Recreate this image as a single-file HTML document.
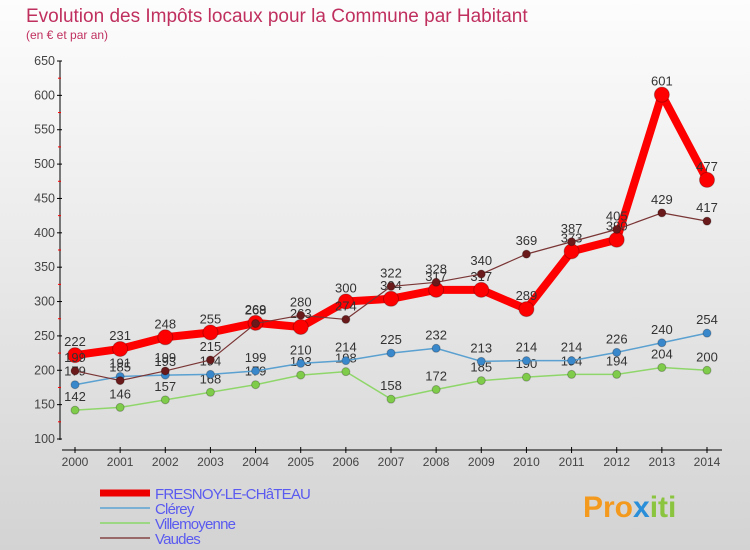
<!DOCTYPE html>
<html><head><meta charset="utf-8"><style>
body{margin:0}
#c{width:750px;height:550px;position:relative;overflow:hidden;background:linear-gradient(#fdfdfd,#d3d3d3);font-family:"Liberation Sans",sans-serif}
svg{position:absolute;left:0;top:0}
</style></head><body>
<div id="c">
<svg id="s" width="750" height="550">
<text x="26" y="22" font-size="19" fill="#c0305f">Evolution des Impôts locaux pour la Commune par Habitant</text>
<text x="26" y="39" font-size="12" fill="#c0305f">(en € et par an)</text>
<line x1="60" y1="61" x2="60" y2="440" stroke="#000"/>
<line x1="62" y1="450" x2="722" y2="450" stroke="#000"/>
<g id="g"></g>
<line x1="100" y1="493" x2="150" y2="493" stroke="#e00" stroke-width="7"/>
<line x1="100" y1="508" x2="150" y2="508" stroke="#7ab0d4" stroke-width="2"/>
<line x1="100" y1="523" x2="150" y2="523" stroke="#9cd884" stroke-width="2"/>
<line x1="100" y1="538" x2="150" y2="538" stroke="#986868" stroke-width="2"/>
<g font-size="15" fill="#5a5af0" letter-spacing="-0.8">
<text x="155" y="499">FRESNOY-LE-CHâTEAU</text>
<text x="155" y="514">Clérey</text>
<text x="155" y="529">Villemoyenne</text>
<text x="155" y="544">Vaudes</text>
</g>
<text x="583" y="517" font-size="30" font-weight="bold" fill="#f39a1e">Pro<tspan fill="#2a8fd8">x</tspan><tspan fill="#8bc53f">iti</tspan></text>
</svg>
</div>
<script>
const years=["2000","2001","2002","2003","2004","2005","2006","2007","2008","2009","2010","2011","2012","2013","2014"];
const yTicks=[100,150,200,250,300,350,400,450,500,550,600,650];
const fresnoy=[222,231,248,255,269,263,300,304,317,317,289,373,390,601,477];
const clerey=[179,191,193,194,199,210,214,225,232,213,214,214,226,240,254];
const villemoyenne=[142,146,157,168,179,193,198,158,172,185,190,194,194,204,200];
const vaudes=[199,185,199,215,268,280,274,322,328,340,369,387,405,429,417];
const NS="http://www.w3.org/2000/svg";
const g=document.getElementById('g');
const X=i=>75+i*(707-75)/14;
const Y=v=>439-(v-100)*(439-61)/550;
function mk(t,a){const e=document.createElementNS(NS,t);for(const k in a)e.setAttribute(k,a[k]);g.appendChild(e);return e;}
yTicks.forEach(v=>{
 const l=mk('line',{x1:57,y1:Y(v),x2:62,y2:Y(v),stroke:'#000'});
 
 
 if(v<650){const m=mk('line',{x1:58,y1:Y(v+25),x2:61,y2:Y(v+25),stroke:'#f00'});
 
 }
 const t=mk('text',{x:55,y:Y(v)+4,'text-anchor':'end','font-size':12.5,fill:'#444'});
 t.textContent=v;
 
 
});
years.forEach((y,i)=>{
 const l=mk('line',{x1:X(i),y1:447,x2:X(i),y2:453,stroke:'#000'});
 
 
 const t=mk('text',{x:X(i),y:466,'text-anchor':'middle','font-size':12,fill:'#444'});
 t.textContent=y;
 
 
});
function series(d,name,col,mcol,w,r){
 const p=mk('polyline',{points:d.map((v,i)=>X(i)+','+Y(v)).join(' '),fill:'none',stroke:col,'stroke-width':w,'stroke-linejoin':'round'});
 
 
 d.forEach((v,i)=>{
  const c=mk('circle',{cx:X(i),cy:Y(v),r:r,fill:mcol,stroke:'rgba(0,0,0,0.25)','stroke-width':1});
  
  
  const t=mk('text',{x:X(i),y:Y(v)-9,'text-anchor':'middle','font-size':13,fill:'#333'});
  t.textContent=v;
  
  
 });
}
series(villemoyenne,'villemoyenne','#8fd66a','#7fcc4a',1.5,4);
series(clerey,'clerey','#5aa0d0','#3a88cc',1.5,4);
series(fresnoy,'fresnoy','#f00','#f00',8,7.5);
series(vaudes,'vaudes','#7a3535','#6a1a1a',1.2,4);
</script>
</body></html>
